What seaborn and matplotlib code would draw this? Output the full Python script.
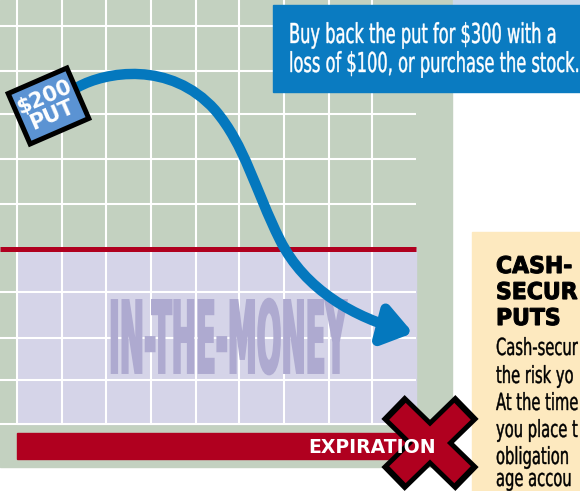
import seaborn as sns
import matplotlib.pyplot as plt
from matplotlib.patches import Rectangle, FancyArrowPatch, ArrowStyle
from matplotlib.path import Path
from matplotlib.patheffects import AbstractPathEffect
from matplotlib.transforms import Affine2D

# ---- texts (side panel is cropped by the page edge, only the visible part is kept) ----
box_lines = ["Buy back the put for $300 with a",
             "loss of $100, or purchase the stock."]
tag_lines = ["$200", "PUT"]
zone_label = "IN-THE-MONEY"
bar_label = "EXPIRATION"
side_title = ["CASH-", "SECUR", "PUTS"]
side_body = ["Cash-secur",
             "the risk yo",
             "At the time",
             "you place t",
             "obligation",
             "age accou"]

# ---- chart geometry (pixels, y downwards) ----
grid_x = [17, 62, 106, 151, 196, 239, 284, 329, 372]
grid_y = [26, 71, 114, 159, 204, 292, 338, 380, 424]
strike_y = 249

# price path: start point + three cubic bezier segments
arrow_x = [78, 105, 170, 215, 245, 255, 280, 305, 355, 413]
arrow_y = [87, 72, 60, 110, 145, 190, 240, 290, 318, 333]

# expiration cross, two arms
cross_a = ([393, 467], [407, 479])
cross_b = ([467, 393], [407, 479])

green = "#c3d1c0"
lavender = "#d5d4e8"
red = "#b0001f"
blue = "#0478be"


class Tall(AbstractPathEffect):
    # stretch glyphs upward from the baseline to fake a condensed face
    def __init__(self, sy, stroke=0):
        super().__init__()
        self.sy = sy
        self.stroke = stroke

    def draw_path(self, renderer, gc, tpath, affine, rgbFace=None):
        gc0 = renderer.new_gc()
        gc0.copy_properties(gc)
        if self.stroke:
            gc0.set_linewidth(self.stroke)
            gc0.set_foreground(rgbFace)
            gc0.set_joinstyle("miter")
        renderer.draw_path(gc0, tpath, Affine2D().scale(1, self.sy) + affine, rgbFace)
        gc0.restore()


sns.set_theme(style="white")
plt.rcParams["font.family"] = ["DejaVu Sans"]

fig = plt.figure(figsize=(5.8, 4.91), dpi=100)
ax = fig.add_axes([0, 0, 1, 1])
ax.set_xlim(0, 580)
ax.set_ylim(491, 0)
ax.axis("off")

# panels
ax.add_patch(Rectangle((0, 0), 452, 467, color=green, zorder=0))
ax.add_patch(Rectangle((453, 0), 127, 5, color="#c9d8eb", zorder=0))
ax.add_patch(Rectangle((17, strike_y), 399, 424 - strike_y, color=lavender, zorder=0.5))

# grid
ax.vlines(grid_x, 0, 424, colors="white", lw=1.5, zorder=1)
ax.hlines(grid_y, 0, 416, colors="white", lw=1.5, zorder=1)
ax.hlines(strike_y, 0, 416, colors=red, lw=3.6, zorder=1.5)

# expiration bar
ax.add_patch(Rectangle((17, 433), 423, 26, color=red, zorder=1.5))

ax.text(109, 373, zone_label, color="#aeaad0", fontsize=20.9, fontweight="bold",
        ha="left", va="baseline", zorder=2, path_effects=[Tall(3.45, stroke=1.4)])

# price arrow
codes = [Path.MOVETO] + [Path.CURVE4] * 9
arrow = FancyArrowPatch(path=Path(list(zip(arrow_x, arrow_y)), codes),
                        arrowstyle=ArrowStyle("-|>", head_length=17, head_width=12),
                        mutation_scale=1, lw=7.5, color=blue, zorder=3)
ax.add_patch(arrow)

# $200 PUT tag
ax.add_patch(Rectangle((48.5 - 32, 106 - 27.5), 64, 55, angle=-23.5,
                       rotation_point="center", facecolor="#5b93d3",
                       edgecolor="black", lw=3.6, zorder=4))
for (tx, ty), s in zip([(44.6, 97.2), (52.4, 114.8)], tag_lines):
    ax.text(tx, ty, s, color="white", fontsize=15, fontweight="bold", rotation=23.5,
            rotation_mode="anchor", ha="center", va="center", zorder=5)

# callout box
ax.add_patch(Rectangle((273, 5), 307, 87, color="#0a7bc1", zorder=4))
for y, s in zip([43, 72], box_lines):
    ax.text(289, y, s, color="white", fontsize=11.7, ha="left", va="baseline",
            zorder=5, path_effects=[Tall(1.69, stroke=0.3)])

# side panel
ax.add_patch(Rectangle((472, 232), 108, 259, color="#fde9bf", zorder=4))
for y, s in zip([273, 299, 325], side_title):
    ax.text(496, y, s, color="black", fontsize=15.8, fontweight="bold",
            ha="left", va="baseline", zorder=5, path_effects=[Tall(1.05, stroke=0.8)])
for y, s in zip([355, 383, 410, 437, 464, 486], side_body):
    ax.text(496, y, s, color="black", fontsize=10.6, ha="left", va="baseline",
            zorder=5, path_effects=[Tall(1.6, stroke=0.3)])

# expiration cross
for xs, ys in [cross_a, cross_b]:
    ax.plot(xs, ys, color="black", lw=24, solid_capstyle="butt", zorder=6)
for xs, ys in [cross_a, cross_b]:
    mx, my = sum(xs) / 2, sum(ys) / 2
    ax.plot([mx + (x - mx) * 0.88 for x in xs], [my + (y - my) * 0.88 for y in ys],
            color=red, lw=17, solid_capstyle="butt", zorder=6.5)

ax.text(308, 453, bar_label, color="white", fontsize=13.6, fontweight="bold",
        ha="left", va="baseline", zorder=7)

fig.savefig("out.png", dpi=100)
